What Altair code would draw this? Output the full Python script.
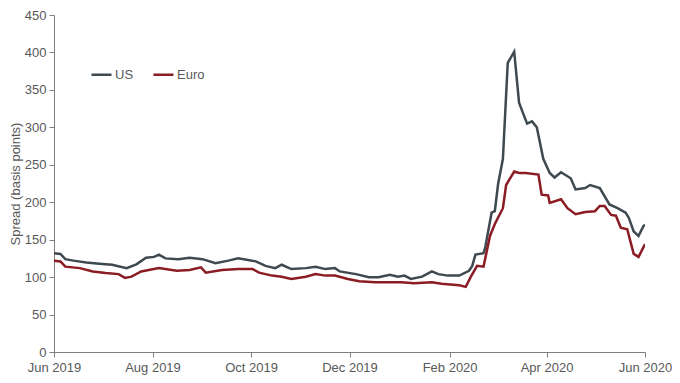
import altair as alt
import pandas as pd

us_dates = [
    "2019-06-01", "2019-06-05", "2019-06-08", "2019-06-13", "2019-06-21", "2019-06-29",
    "2019-07-07", "2019-07-16", "2019-07-22", "2019-07-28", "2019-08-02", "2019-08-05",
    "2019-08-09", "2019-08-17", "2019-08-24", "2019-09-01", "2019-09-09", "2019-09-17",
    "2019-09-23", "2019-09-30", "2019-10-04", "2019-10-10", "2019-10-16", "2019-10-20",
    "2019-10-26", "2019-11-04", "2019-11-10", "2019-11-16", "2019-11-22", "2019-11-25",
    "2019-12-05", "2019-12-13", "2019-12-19", "2019-12-26", "2019-12-31", "2020-01-04",
    "2020-01-08", "2020-01-15", "2020-01-21", "2020-01-25", "2020-01-31", "2020-02-07",
    "2020-02-13", "2020-02-15", "2020-02-17", "2020-02-22", "2020-02-23", "2020-02-27",
    "2020-02-29", "2020-03-02", "2020-03-05", "2020-03-08", "2020-03-12", "2020-03-15",
    "2020-03-18", "2020-03-20", "2020-03-23", "2020-03-26", "2020-03-30", "2020-04-03",
    "2020-04-06", "2020-04-10", "2020-04-16", "2020-04-19", "2020-04-25", "2020-04-28",
    "2020-05-04", "2020-05-10", "2020-05-15", "2020-05-20", "2020-05-22", "2020-05-25",
    "2020-05-28", "2020-05-31", "2020-06-01",
]
us_values = [
    132, 131, 124, 122, 119.5, 118,
    116.5, 112, 117, 126, 127, 130,
    125, 124, 126, 124, 118.6, 122,
    125, 122.6, 121, 115, 112, 116.5,
    110.7, 112, 113.8, 110.7, 112, 107.6,
    104, 99.7, 99.7, 103, 100.6, 102,
    97.5, 100.6, 107.6, 104, 102, 102,
    108.5, 115, 130, 132, 139, 186,
    188, 224, 258, 386, 401, 333,
    316, 305, 308, 300, 258, 239,
    233, 240, 232, 217, 219, 223,
    219, 197, 192, 186, 179, 161,
    155, 168, 170,
]

euro_dates = [
    "2019-06-01", "2019-06-05", "2019-06-08", "2019-06-17", "2019-06-25", "2019-07-03",
    "2019-07-11", "2019-07-15", "2019-07-19", "2019-07-25", "2019-08-05", "2019-08-16",
    "2019-08-24", "2019-08-31", "2019-09-03", "2019-09-13", "2019-09-23", "2019-10-02",
    "2019-10-06", "2019-10-14", "2019-10-20", "2019-10-26", "2019-11-04", "2019-11-10",
    "2019-11-16", "2019-11-22", "2019-11-30", "2019-12-07", "2019-12-17", "2019-12-25",
    "2020-01-02", "2020-01-10", "2020-01-21", "2020-01-27", "2020-02-07", "2020-02-11",
    "2020-02-14", "2020-02-18", "2020-02-22", "2020-02-26", "2020-02-29", "2020-03-05",
    "2020-03-07", "2020-03-12", "2020-03-15", "2020-03-19", "2020-03-27", "2020-03-29",
    "2020-04-02", "2020-04-03", "2020-04-10", "2020-04-14", "2020-04-19", "2020-04-25",
    "2020-05-01", "2020-05-04", "2020-05-07", "2020-05-11", "2020-05-14", "2020-05-17",
    "2020-05-21", "2020-05-25", "2020-05-28", "2020-06-01",
]
euro_values = [
    122, 121, 114, 112, 107.6, 105.4,
    104, 99, 100.6, 107.6, 112, 108.5,
    109.5, 113, 106, 109.5, 110.7, 110.7,
    106, 102, 100.6, 97.5, 100.6, 104,
    102, 102, 97.5, 94.4, 93, 93,
    93, 91.7, 93, 91, 89, 87,
    100, 115, 114, 155, 171, 192,
    223, 241, 239, 239, 237, 210,
    209, 199, 204, 192, 184, 187,
    188, 195, 195, 183, 182, 166,
    164, 131, 127, 144,
]

series_names = ["US", "Euro"]
series_colors = ["#3e4a4f", "#8b1c24"]
tick_dates = [(2019, 6), (2019, 8), (2019, 10), (2019, 12), (2020, 2), (2020, 4), (2020, 6)]

df = pd.concat([
    pd.DataFrame({"date": us_dates, "value": us_values, "series": "US"}),
    pd.DataFrame({"date": euro_dates, "value": euro_values, "series": "Euro"}),
])

font = "Liberation Sans"
grey = "#595959"

chart = alt.Chart(df).mark_line(strokeWidth=2.5, clip=True).encode(
    x=alt.X(
        "date:T",
        scale=alt.Scale(
            type="utc",
            domain=[alt.DateTime(year=2019, month=6, date=1, utc=True),
                    alt.DateTime(year=2020, month=6, date=1, utc=True)],
        ),
        axis=alt.Axis(
            values=[alt.DateTime(year=y, month=m, date=1, utc=True) for y, m in tick_dates],
            format="%b %Y", title=None, grid=False,
            labelFontSize=13, labelColor=grey, labelFont=font, labelPadding=4,
            domainColor="#7f7f7f", tickColor="#7f7f7f", tickSize=5, labelFlush=False,
        ),
    ),
    y=alt.Y(
        "value:Q",
        scale=alt.Scale(domain=[0, 450], nice=False),
        axis=alt.Axis(
            values=list(range(0, 451, 50)), title="Spread (basis points)", grid=False,
            labelFontSize=13, labelColor=grey, labelFont=font, labelPadding=3,
            titleFontSize=13, titleColor=grey, titleFont=font, titleFontWeight="normal",
            titlePadding=2, domainColor="#7f7f7f", tickColor="#7f7f7f", tickSize=5,
        ),
    ),
    color=alt.Color(
        "series:N",
        scale=alt.Scale(domain=series_names, range=series_colors),
        legend=alt.Legend(
            title=None, orient="none", legendX=36, legendY=48, direction="horizontal",
            symbolType="stroke", symbolSize=400, symbolStrokeWidth=2.5,
            labelFontSize=13, labelColor=grey, labelFont=font, labelOffset=2,
            columnPadding=14,
        ),
    ),
).properties(
    width=591, height=337,
    autosize=alt.AutoSizeParams(type="none"),
    padding={"left": 46, "top": 7, "right": 27, "bottom": 23},
).configure_view(stroke=None)

chart.save("out.html", embed_options={"renderer": "svg", "actions": False})
